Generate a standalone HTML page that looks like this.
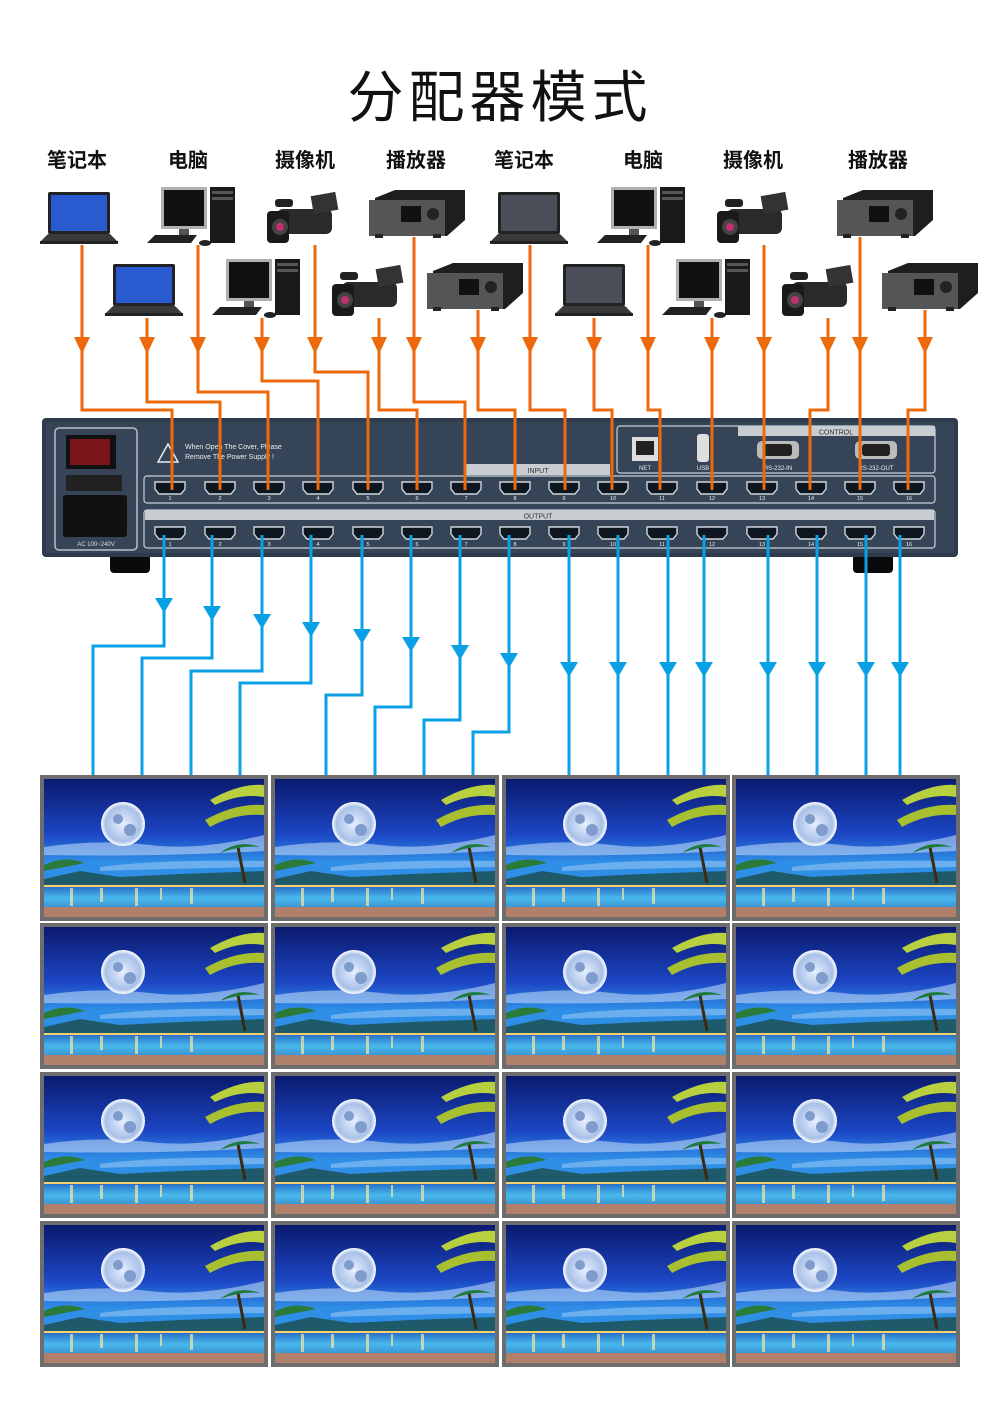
<!DOCTYPE html>
<html><head><meta charset="utf-8"><style>
html,body{margin:0;padding:0;background:#fff}
svg{display:block}
</style></head><body>
<svg width="1000" height="1405" viewBox="0 0 1000 1405" xmlns="http://www.w3.org/2000/svg" font-family="Liberation Sans, Noto Sans CJK SC, sans-serif">
<defs>
<linearGradient id="sky" x1="0" y1="0" x2="0" y2="1">
<stop offset="0" stop-color="#0a1a6e"/><stop offset="0.4" stop-color="#1c46c4"/><stop offset="0.6" stop-color="#2f8ee6"/><stop offset="1" stop-color="#2f8ee6"/>
</linearGradient>
<linearGradient id="water" x1="0" y1="0" x2="0" y2="1">
<stop offset="0" stop-color="#2a70c8"/><stop offset="0.5" stop-color="#48b8ec"/><stop offset="1" stop-color="#3a90d0"/>
</linearGradient>
<radialGradient id="moon"><stop offset="0" stop-color="#e8f0ff"/><stop offset="0.8" stop-color="#a8c0e8"/><stop offset="1" stop-color="#ffffff"/></radialGradient>
<symbol id="scr" viewBox="0 0 228 146" width="228" height="146">
<rect width="228" height="146" fill="#6d6d6d"/>
<rect x="4" y="4" width="220" height="138" fill="url(#sky)"/>
<path d="M4 72 Q60 64 110 70 T224 60 L224 76 Q120 82 4 80Z" fill="#c8e0fa" opacity="0.55"/>
<path d="M60 92 Q120 84 224 86 L224 92 Q120 94 60 96Z" fill="#c8e0fa" opacity="0.4"/>
<path d="M4 104 L40 96 L80 102 L140 99 L224 96 L224 110 L4 110Z" fill="#1f5a6a"/>
<path d="M4 110 h220 v2 h-220z" fill="#f5d070"/>
<rect x="4" y="112" width="220" height="22" fill="url(#water)"/>
<g fill="#f8e8a0" opacity="0.7"><rect x="30" y="113" width="3" height="18"/><rect x="60" y="113" width="3" height="14"/><rect x="95" y="113" width="3" height="18"/><rect x="120" y="113" width="2" height="12"/><rect x="150" y="113" width="3" height="16"/></g>
<rect x="4" y="132" width="220" height="10" fill="#b0806a"/>
<circle cx="83" cy="49" r="22" fill="url(#moon)"/>
<circle cx="78" cy="44" r="5" fill="#7f9ccc"/><circle cx="90" cy="55" r="6" fill="#7f9ccc"/>
<path d="M170 25 Q200 8 224 10 L224 22 Q200 18 175 30Z" fill="#b8d040"/>
<path d="M165 45 Q195 28 224 30 L224 40 Q195 38 170 52Z" fill="#a8c030"/>
<path d="M205 108 L198 72" stroke="#3a2a10" stroke-width="3"/>
<path d="M180 78 Q198 64 220 72 Q200 70 180 78Z" fill="#1d7a3a"/>
<path d="M4 90 Q25 80 45 88 L4 96Z" fill="#2a7a3a"/>
</symbol>
<symbol id="lap" viewBox="0 0 78 55" width="78" height="55">
<rect x="8" y="2" width="62" height="42" rx="2" fill="#222"/>
<rect x="11" y="5" width="56" height="36" fill="#2a5ad0"/>
<path d="M0 52 L8 44 L70 44 L78 52Z" fill="#3a3a3a"/><rect x="0" y="51" width="78" height="3" fill="#222"/>
</symbol>
<symbol id="lapd" viewBox="0 0 78 55" width="78" height="55">
<rect x="8" y="2" width="62" height="42" rx="2" fill="#222"/>
<rect x="11" y="5" width="56" height="36" fill="#4a4e58"/>
<path d="M0 52 L8 44 L70 44 L78 52Z" fill="#3a3a3a"/><rect x="0" y="51" width="78" height="3" fill="#222"/>
</symbol>
<symbol id="pc" viewBox="0 0 90 62" width="90" height="62">
<rect x="14" y="2" width="46" height="42" fill="#b0b0b0"/><rect x="17" y="5" width="40" height="36" fill="#111"/>
<rect x="32" y="44" width="10" height="6" fill="#555"/>
<path d="M0 58 L8 50 L50 50 L44 58Z" fill="#222"/>
<rect x="63" y="2" width="25" height="56" fill="#1a1a1a"/><rect x="65" y="6" width="21" height="3" fill="#555"/><rect x="65" y="12" width="21" height="3" fill="#555"/>
<ellipse cx="58" cy="58" rx="6" ry="3" fill="#222"/>
</symbol>
<symbol id="cam" viewBox="0 0 75 58" width="75" height="58">
<rect x="10" y="20" width="55" height="25" rx="6" fill="#2a2a2a"/>
<rect x="0" y="22" width="22" height="32" rx="4" fill="#1a1a1a"/><circle cx="13" cy="38" r="8" fill="#444"/><circle cx="13" cy="38" r="4" fill="#c03070"/>
<rect x="45" y="5" width="25" height="18" fill="#333" transform="rotate(-10 57 14)"/>
<rect x="8" y="10" width="18" height="8" rx="3" fill="#222"/>
</symbol>
<symbol id="ply" viewBox="0 0 98 48" width="98" height="48">
<path d="M8 8 L28 0 L98 0 L98 30 L80 46 L8 46Z" fill="#1e1e1e"/>
<rect x="2" y="10" width="76" height="36" fill="#555"/>
<rect x="34" y="16" width="20" height="16" fill="#111"/><circle cx="66" cy="24" r="6" fill="#222"/>
<rect x="8" y="44" width="8" height="4" fill="#222"/><rect x="66" y="44" width="8" height="4" fill="#222"/>
</symbol>
<symbol id="port" viewBox="0 0 32 14" width="32" height="14">
<path d="M1 1 H31 V8 L27 13 H5 L1 8Z" fill="#0e1620" stroke="#d0d6de" stroke-width="1.4"/>
</symbol>
</defs>

<text x="500" y="117" text-anchor="middle" font-size="56" fill="#111" font-family="Liberation Sans, Noto Sans CJK SC, sans-serif" letter-spacing="5">分配器模式</text>
<g font-size="20" font-weight="bold" fill="#111" text-anchor="middle">
<text x="77" y="167">笔记本</text><text x="188" y="167">电脑</text><text x="305" y="167">摄像机</text><text x="416" y="167">播放器</text>
<text x="524" y="167">笔记本</text><text x="643" y="167">电脑</text><text x="753" y="167">摄像机</text><text x="878" y="167">播放器</text>
</g>

<use href="#lap" x="40" y="190"/><use href="#pc" x="147" y="185"/><use href="#cam" x="267" y="189"/><use href="#ply" x="367" y="190"/>
<use href="#lapd" x="490" y="190"/><use href="#pc" x="597" y="185"/><use href="#cam" x="717" y="189"/><use href="#ply" x="835" y="190"/>
<use href="#lap" x="105" y="262"/><use href="#pc" x="212" y="257"/><use href="#cam" x="332" y="262"/><use href="#ply" x="425" y="263"/>
<use href="#lapd" x="555" y="262"/><use href="#pc" x="662" y="257"/><use href="#cam" x="782" y="262"/><use href="#ply" x="880" y="263"/>

<rect x="110" y="550" width="40" height="23" rx="4" fill="#0a0a0a"/><rect x="853" y="550" width="40" height="23" rx="4" fill="#0a0a0a"/>
<rect x="42" y="418" width="916" height="139" rx="4" fill="#2e3b4c"/>
<rect x="46" y="422" width="908" height="131" fill="#354456"/>
<rect x="55" y="428" width="82" height="122" rx="4" fill="none" stroke="#b8c0c8" stroke-width="1.5"/>
<rect x="66" y="435" width="50" height="34" fill="#111"/><rect x="70" y="439" width="40" height="26" fill="#7a1418"/>
<rect x="66" y="475" width="56" height="16" fill="#222"/>
<rect x="63" y="495" width="64" height="42" rx="3" fill="#111"/>
<text x="96" y="546" font-size="6" fill="#ddd" text-anchor="middle">AC 100~240V</text>
<path d="M158 462 L168 444 L178 462Z" fill="none" stroke="#eee" stroke-width="1.5"/>
<text x="185" y="449" font-size="7" fill="#eee">When Open The Cover, Please</text>
<text x="185" y="459" font-size="7" fill="#eee">Remove The Power Supply !</text>
<rect x="617" y="426" width="318" height="47" rx="3" fill="none" stroke="#c8d0d8" stroke-width="1.2"/>
<rect x="738" y="426" width="197" height="10" fill="#c8cdd2"/>
<text x="836" y="434.5" font-size="7" fill="#333" text-anchor="middle">CONTROL</text>
<rect x="632" y="437" width="26" height="24" fill="#ddd"/><rect x="636" y="441" width="18" height="14" fill="#222"/>
<text x="645" y="470" font-size="6" fill="#eee" text-anchor="middle">NET</text>
<rect x="697" y="434" width="12" height="28" rx="3" fill="#ddd"/><text x="703" y="470" font-size="6" fill="#eee" text-anchor="middle">USB</text>
<rect x="757" y="441" width="42" height="18" rx="5" fill="#bbb"/><rect x="764" y="444" width="28" height="12" rx="3" fill="#222"/>
<text x="778" y="470" font-size="6" fill="#eee" text-anchor="middle">RS-232-IN</text>
<rect x="855" y="441" width="42" height="18" rx="5" fill="#bbb"/><rect x="862" y="444" width="28" height="12" rx="3" fill="#222"/>
<text x="876" y="470" font-size="6" fill="#eee" text-anchor="middle">RS-232-OUT</text>
<rect x="465" y="464" width="145" height="11" fill="#c8cdd2"/>
<text x="538" y="473" font-size="7" fill="#333" text-anchor="middle">INPUT</text>
<rect x="144" y="476" width="791" height="27" rx="3" fill="none" stroke="#c8d0d8" stroke-width="1.2"/>
<rect x="144" y="510" width="791" height="38" rx="3" fill="none" stroke="#c8d0d8" stroke-width="1.2"/>
<rect x="145" y="510" width="789" height="10" fill="#c8cdd2"/>
<text x="538" y="518.5" font-size="7" fill="#333" text-anchor="middle">OUTPUT</text>
<g font-size="5.5" fill="#eee" text-anchor="middle">
<use href="#port" x="154" y="481"/><use href="#port" x="204" y="481"/><use href="#port" x="253" y="481"/><use href="#port" x="302" y="481"/><use href="#port" x="352" y="481"/><use href="#port" x="401" y="481"/><use href="#port" x="450" y="481"/><use href="#port" x="499" y="481"/><use href="#port" x="548" y="481"/><use href="#port" x="597" y="481"/><use href="#port" x="646" y="481"/><use href="#port" x="696" y="481"/><use href="#port" x="746" y="481"/><use href="#port" x="795" y="481"/><use href="#port" x="844" y="481"/><use href="#port" x="893" y="481"/>
<use href="#port" x="154" y="526"/><use href="#port" x="204" y="526"/><use href="#port" x="253" y="526"/><use href="#port" x="302" y="526"/><use href="#port" x="352" y="526"/><use href="#port" x="401" y="526"/><use href="#port" x="450" y="526"/><use href="#port" x="499" y="526"/><use href="#port" x="548" y="526"/><use href="#port" x="597" y="526"/><use href="#port" x="646" y="526"/><use href="#port" x="696" y="526"/><use href="#port" x="746" y="526"/><use href="#port" x="795" y="526"/><use href="#port" x="844" y="526"/><use href="#port" x="893" y="526"/>
<text x="170" y="500">1</text><text x="220" y="500">2</text><text x="269" y="500">3</text><text x="318" y="500">4</text><text x="368" y="500">5</text><text x="417" y="500">6</text><text x="466" y="500">7</text><text x="515" y="500">8</text><text x="564" y="500">9</text><text x="613" y="500">10</text><text x="662" y="500">11</text><text x="712" y="500">12</text><text x="762" y="500">13</text><text x="811" y="500">14</text><text x="860" y="500">15</text><text x="909" y="500">16</text>
<text x="170" y="546">1</text><text x="220" y="546">2</text><text x="269" y="546">3</text><text x="318" y="546">4</text><text x="368" y="546">5</text><text x="417" y="546">6</text><text x="466" y="546">7</text><text x="515" y="546">8</text><text x="564" y="546">9</text><text x="613" y="546">10</text><text x="662" y="546">11</text><text x="712" y="546">12</text><text x="762" y="546">13</text><text x="811" y="546">14</text><text x="860" y="546">15</text><text x="909" y="546">16</text>
</g>

<g fill="none" stroke="#ec6a0c" stroke-width="3">
<path d="M82 245 V410 H172 V490"/><path d="M147 318 V402 H220 V490"/><path d="M198 245 V392 H268 V490"/><path d="M262 318 V381 H318 V490"/>
<path d="M315 245 V372 H368 V490"/><path d="M379 318 V410 H417 V490"/><path d="M414 237 V402 H465 V490"/><path d="M478 310 V410 H515 V490"/>
<path d="M530 245 V410 H565 V490"/><path d="M594 318 V410 H612 V490"/><path d="M648 245 V410 H660 V490"/><path d="M712 318 V490"/>
<path d="M764 245 V490"/><path d="M828 318 V410 H810 V490"/><path d="M860 237 V490"/><path d="M925 310 V410 H908 V490"/>
</g>
<g fill="#ec6a0c">
<path d="M74 337 h16 l-8 17z"/><path d="M139 337 h16 l-8 17z"/><path d="M190 337 h16 l-8 17z"/><path d="M254 337 h16 l-8 17z"/>
<path d="M307 337 h16 l-8 17z"/><path d="M371 337 h16 l-8 17z"/><path d="M406 337 h16 l-8 17z"/><path d="M470 337 h16 l-8 17z"/>
<path d="M522 337 h16 l-8 17z"/><path d="M586 337 h16 l-8 17z"/><path d="M640 337 h16 l-8 17z"/><path d="M704 337 h16 l-8 17z"/>
<path d="M756 337 h16 l-8 17z"/><path d="M820 337 h16 l-8 17z"/><path d="M852 337 h16 l-8 17z"/><path d="M917 337 h16 l-8 17z"/>
</g>

<g fill="none" stroke="#0aa0e6" stroke-width="3">
<path d="M164 535 V646 H93 V776"/><path d="M212 535 V658 H142 V776"/><path d="M262 535 V671 H191 V776"/><path d="M311 535 V683 H240 V776"/>
<path d="M362 535 V695 H326 V776"/><path d="M411 535 V707 H375 V776"/><path d="M460 535 V720 H424 V776"/><path d="M509 535 V732 H473 V776"/>
<path d="M569 535 V776"/><path d="M618 535 V776"/><path d="M668 535 V776"/><path d="M704 535 V776"/>
<path d="M768 535 V776"/><path d="M817 535 V776"/><path d="M866 535 V776"/><path d="M900 535 V776"/>
</g>
<g fill="#0aa0e6">
<path d="M155 598 h18 l-9 15z"/><path d="M203 606 h18 l-9 15z"/><path d="M253 614 h18 l-9 15z"/><path d="M302 622 h18 l-9 15z"/>
<path d="M353 629 h18 l-9 15z"/><path d="M402 637 h18 l-9 15z"/><path d="M451 645 h18 l-9 15z"/><path d="M500 653 h18 l-9 15z"/>
<path d="M560 662 h18 l-9 15z"/><path d="M609 662 h18 l-9 15z"/><path d="M659 662 h18 l-9 15z"/><path d="M695 662 h18 l-9 15z"/>
<path d="M759 662 h18 l-9 15z"/><path d="M808 662 h18 l-9 15z"/><path d="M857 662 h18 l-9 15z"/><path d="M891 662 h18 l-9 15z"/>
</g>

<g>
<use href="#scr" x="40" y="775"/><use href="#scr" x="271" y="775"/><use href="#scr" x="502" y="775"/><use href="#scr" x="732" y="775"/>
<use href="#scr" x="40" y="923"/><use href="#scr" x="271" y="923"/><use href="#scr" x="502" y="923"/><use href="#scr" x="732" y="923"/>
<use href="#scr" x="40" y="1072"/><use href="#scr" x="271" y="1072"/><use href="#scr" x="502" y="1072"/><use href="#scr" x="732" y="1072"/>
<use href="#scr" x="40" y="1221"/><use href="#scr" x="271" y="1221"/><use href="#scr" x="502" y="1221"/><use href="#scr" x="732" y="1221"/>
</g>
</svg>
</body></html>
